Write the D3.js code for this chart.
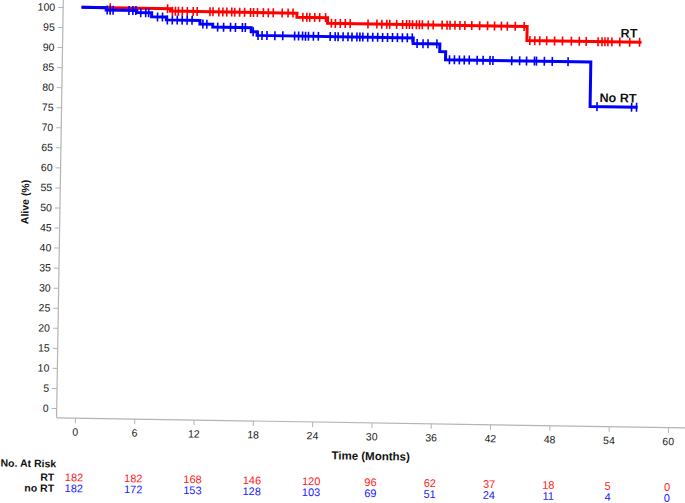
<!DOCTYPE html>
<html>
<head>
<meta charset="utf-8">
<script src="https://cdn.jsdelivr.net/npm/d3@7"></script>
<style>
  body { margin: 0; background: #fff; }
  text { font-family: "Liberation Sans", Arial, sans-serif; }
</style>
</head>
<body>
<script>
// Kaplan-Meier steps (months, % alive)
var rtTimes = [0, 9.0, 21.8, 24.9, 45.1];
var rtSurv = [100, 99.4, 98.4, 97.0, 93.5];
var rtEnd = 56.7;
var noRtTimes = [0, 2.5, 5.6, 7.1, 8.6, 12.0, 13.3, 17.2, 17.8, 33.6, 36.3, 36.9, 51.6];
var noRtSurv = [100, 99.4, 98.9, 97.9, 97.2, 96.3, 95.6, 94.6, 93.7, 92.3, 90.4, 88.4, 77.3];
var noRtEnd = 56.4;

// censored times
var rtCensor = [2.9, 8.7, 9.2, 9.5, 9.8, 10.2, 10.7, 11.3, 11.7, 13.0, 13.3, 13.9, 14.3, 14.7, 15.2, 15.5,
  16.0, 16.5, 17.1, 17.4, 17.8, 18.4, 18.9, 19.4, 20.3, 20.9, 21.4, 22.4, 22.8, 23.1, 23.6, 24.1, 24.7,
  25.3, 25.7, 26.2, 26.7, 27.2, 29.0, 29.9, 30.4, 30.9, 31.2, 31.9, 32.5, 32.9, 33.2, 33.5, 33.9, 34.2,
  34.5, 35.1, 35.6, 36.5, 37.0, 37.3, 37.8, 38.3, 38.8, 39.5, 40.3, 41.1, 41.8, 42.5, 43.1, 43.9, 44.8,
  45.4, 45.9, 46.4, 47.1, 47.9, 48.7, 49.6, 50.4, 51.1, 52.3, 52.7, 53.0, 53.3, 53.7, 54.5, 55.5, 56.5];
var noRtCensor = [2.6, 2.9, 3.2, 4.8, 5.2, 5.5, 6.0, 6.5, 6.8, 7.7, 8.2, 8.7, 9.2, 9.7, 10.2, 10.7, 11.2,
  12.3, 12.7, 13.8, 14.4, 15.1, 15.6, 16.3, 16.6, 17.4, 17.9, 18.3, 18.8, 19.6, 20.4, 21.6, 22.0, 22.4,
  22.7, 23.0, 23.5, 24.0, 25.2, 25.7, 26.0, 26.5, 27.0, 27.4, 27.9, 28.2, 28.5, 29.0, 29.5, 30.0, 30.5,
  31.0, 31.5, 32.0, 32.5, 33.0, 33.5, 34.0, 34.6, 35.1, 36.0, 37.3, 37.8, 38.3, 38.8, 39.3, 40.1, 40.7,
  41.4, 41.7, 43.6, 44.4, 45.1, 45.9, 46.1, 46.9, 47.7, 49.3, 52.3, 55.8, 56.3];

// numbers at risk
var riskMonths = [0, 6, 12, 18, 24, 30, 36, 42, 48, 54, 60];
var riskRT = [182, 182, 168, 146, 120, 96, 62, 37, 18, 5, 0];
var riskNoRT = [182, 172, 153, 128, 103, 69, 51, 24, 11, 4, 0];
var yTicks = d3.range(0, 101, 5);

var width = 685, height = 503;
var red = '#ff0000', blue = '#0000ff';

var svg = d3.select('body')
  .append('svg')
  .attr('width', width)
  .attr('height', height);

// the reference is slightly tilted
var g = svg.append('g')
  .attr('transform', 'rotate(0.92,342,250)');

var xScale = d3.scaleLinear().domain([0, 60]).range([77.7, 670.8]);
var yScale = d3.scaleLinear().domain([0, 100]).range([412.6, 11.5]);
var axisX = 59.3, axisY = 422.4;

// Axes
g.append('line').attr('x1', axisX).attr('x2', axisX).attr('y1', -6).attr('y2', axisY)
  .attr('stroke', '#b4b4b4').attr('stroke-width', 1.2);
g.append('line').attr('x1', axisX).attr('x2', 700).attr('y1', axisY).attr('y2', axisY)
  .attr('stroke', '#b4b4b4').attr('stroke-width', 1.2);

var yAxis = g.append('g')
  .attr('transform', `translate(${axisX},0)`)
  .call(d3.axisLeft(yScale).tickValues(yTicks).tickSize(5).tickPadding(3));
var xAxis = g.append('g')
  .attr('transform', `translate(0,${axisY})`)
  .call(d3.axisBottom(xScale).tickValues(riskMonths).tickSize(5).tickPadding(5));
[yAxis, xAxis].forEach(function(a) {
  a.select('.domain').remove();
  a.selectAll('line').attr('stroke', '#b4b4b4');
  a.selectAll('text').attr('fill', '#222').style('font-size', '10.5px').attr('font-family', null);
});

// Axis labels
g.append('text').attr('x', 374).attr('y', 459.5).attr('text-anchor', 'middle')
  .style('font-size', '11.5px').style('font-weight', 'bold').attr('fill', '#111').text('Time (Months)');
g.append('text').attr('transform', 'translate(28,207) rotate(-90)').attr('text-anchor', 'middle')
  .style('font-size', '10.5px').style('font-weight', 'bold').attr('fill', '#111').text('Alive (%)');

// KM curves
function survAt(times, surv, t) {
  var i = d3.bisectRight(times, t) - 1;
  return surv[Math.max(0, i)];
}
function drawCurve(times, surv, end, censor, color) {
  var pts = times.map(function(t, i) { return [t, surv[i]]; });
  pts.push([end, surv[surv.length - 1]]);
  var line = d3.line()
    .x(function(d) { return xScale(d[0]); })
    .y(function(d) { return yScale(d[1]); })
    .curve(d3.curveStepAfter);
  g.append('path').datum(pts).attr('d', line)
    .attr('fill', 'none').attr('stroke', color).attr('stroke-width', 3);
  g.selectAll(null).data(censor).enter().append('line')
    .attr('x1', function(d) { return xScale(d); })
    .attr('x2', function(d) { return xScale(d); })
    .attr('y1', function(d) { return yScale(survAt(times, surv, d)) - 4.5; })
    .attr('y2', function(d) { return yScale(survAt(times, surv, d)) + 4.5; })
    .attr('stroke', color).attr('stroke-width', 1.6);
}
drawCurve(rtTimes, rtSurv, rtEnd, rtCensor, red);
drawCurve(noRtTimes, noRtSurv, noRtEnd, noRtCensor, blue);

g.append('text').attr('x', 625.5).attr('y', 33).attr('text-anchor', 'middle')
  .style('font-size', '12.5px').style('font-weight', 'bold').attr('fill', '#111').text('RT');
g.append('text').attr('x', 615.6).attr('y', 97.8).attr('text-anchor', 'middle')
  .style('font-size', '12.5px').style('font-weight', 'bold').attr('fill', '#111').text('No RT');

// Number at risk table
g.append('text').attr('x', 4).attr('y', 472).style('font-size', '10.5px').style('font-weight', 'bold')
  .attr('fill', '#111').text('No. At Risk');
g.append('text').attr('x', 58).attr('y', 485.5).attr('text-anchor', 'end').style('font-size', '10.5px')
  .style('font-weight', 'bold').attr('fill', '#111').text('RT');
g.append('text').attr('x', 58).attr('y', 496.5).attr('text-anchor', 'end').style('font-size', '10.5px')
  .style('font-weight', 'bold').attr('fill', '#111').text('no RT');

g.selectAll('.riskrt').data(riskRT).enter().append('text').attr('class', 'riskrt')
  .attr('x', function(d, i) { return xScale(riskMonths[i]); })
  .attr('y', 485.5).attr('text-anchor', 'middle').style('font-size', '11px')
  .attr('fill', '#ff2020').text(function(d) { return d; });
g.selectAll('.risknort').data(riskNoRT).enter().append('text').attr('class', 'risknort')
  .attr('x', function(d, i) { return xScale(riskMonths[i]); })
  .attr('y', 496.5).attr('text-anchor', 'middle').style('font-size', '11px')
  .attr('fill', '#2020ff').text(function(d) { return d; });
</script>
</body>
</html>
